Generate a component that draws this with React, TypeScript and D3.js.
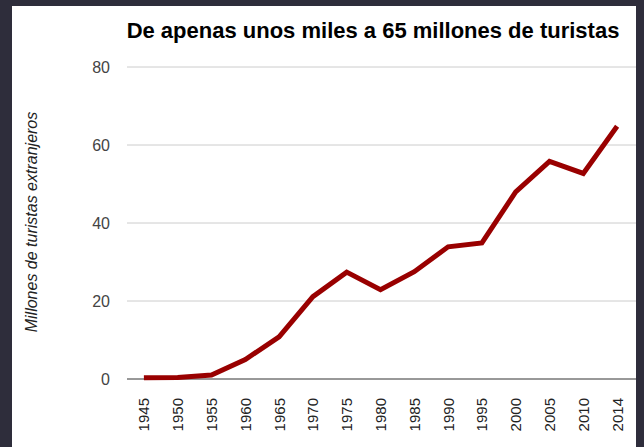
import * as d3 from "d3"

const years = ["1945", "1950", "1955", "1960", "1965", "1970", "1975", "1980", "1985", "1990", "1995", "2000", "2005", "2010", "2014"]
const tourists = [0.3, 0.4, 1.0, 5.0, 10.8, 21.1, 27.4, 22.9, 27.5, 33.9, 34.9, 48.0, 55.8, 52.7, 64.8]
const yTicks = [0, 20, 40, 60, 80]

const title = "De apenas unos miles a 65 millones de turistas"
const yTitle = "Millones de turistas extranjeros"

export default function App() {
  const width = 644
  const height = 447
  const margin = { top: 67, right: 10, bottom: 68, left: 127 }

  const xScale = d3
    .scaleBand()
    .domain(years)
    .range([margin.left, width - margin.right])

  const yScale = d3
    .scaleLinear()
    .domain([0, 80])
    .range([height - margin.bottom, margin.top])

  const line = d3
    .line<number>()
    .x((_, i) => (xScale(years[i]) ?? 0) + xScale.bandwidth() / 2)
    .y((d) => yScale(d))

  const font = "'Liberation Sans', Arial, sans-serif"

  return (
    <svg
      width={width}
      height={height}
      style={{ position: "absolute", left: 0, top: 0, display: "block" }}
      fontFamily={font}
    >
      <rect x={0} y={0} width={width} height={height} fill="#2e2d3b" />
      <rect x={12} y={6} width={624} height={height - 6} fill="white" />

      <text x={373} y={38} textAnchor="middle" fontSize={22} fontWeight="bold" fill="#000">
        {title}
      </text>

      {yTicks.map((t) => (
        <g key={t}>
          <line
            x1={xScale.range()[0]}
            x2={636}
            y1={yScale(t)}
            y2={yScale(t)}
            stroke={t === 0 ? "#333" : "#ccc"}
            strokeWidth={1}
          />
          <text
            x={110}
            y={yScale(t)}
            textAnchor="end"
            dominantBaseline="central"
            fontSize={16}
            fill="#444"
          >
            {t}
          </text>
        </g>
      ))}

      <text
        transform={`translate(37, 222) rotate(-90)`}
        textAnchor="middle"
        fontSize={16}
        fontStyle="italic"
        fill="#222"
      >
        {yTitle}
      </text>

      {years.map((y) => {
        const cx = (xScale(y) ?? 0) + xScale.bandwidth() / 2
        return (
          <text
            key={y}
            transform={`translate(${cx + 5.5}, 398) rotate(-90)`}
            textAnchor="end"
            fontSize={15}
            fill="#222"
          >
            {y}
          </text>
        )
      })}

      <path d={line(tourists) ?? ""} fill="none" stroke="#990000" strokeWidth={5} strokeLinejoin="miter" />
    </svg>
  )
}
